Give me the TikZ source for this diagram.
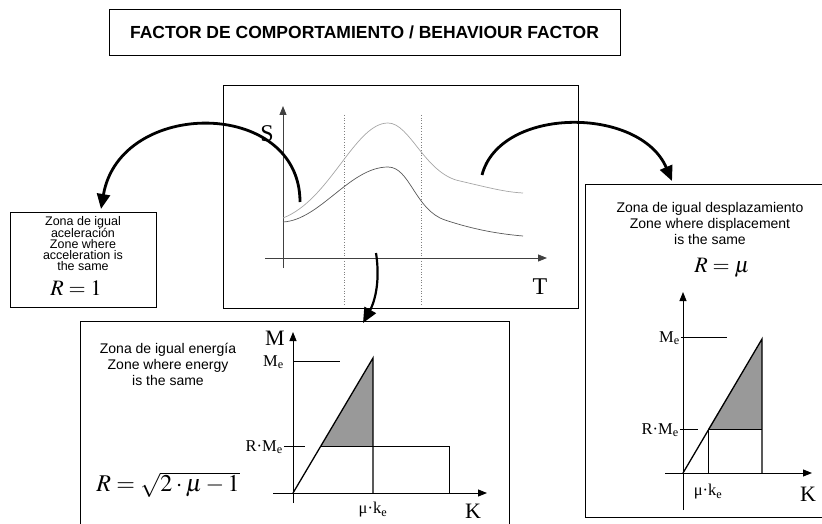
\documentclass[tikz,border=0pt]{standalone}
\usepackage{mathptmx}
\usepackage{fontspec}
\setmainfont{Liberation Serif}
\setsansfont{Liberation Sans}
\usetikzlibrary{arrows.meta}

\begin{document}
\begin{tikzpicture}[x=1pt, y=-1pt,
    box/.style={rectangle, draw, line width=0.9pt, inner sep=0pt},
    txt/.style={font=\sffamily\fontsize{14}{16}\selectfont, align=center, inner sep=0pt},
    axis/.style={line width=0.9pt, -{Triangle[width=7pt,length=9pt]}},
    curvearrow/.style={line width=2.8pt, -{Triangle[width=13pt,length=15pt]}},
    lbl/.style={font=\fontsize{16.5}{16.5}\selectfont, inner sep=1pt},
    big/.style={font=\fontsize{22}{22}\selectfont, inner sep=0pt}]

    \useasboundingbox (0,0) rectangle (822,524);

    % Title
    \node[box, minimum width=511pt, minimum height=46pt,
          font=\sffamily\bfseries\fontsize{17.5}{20}\selectfont] (title) at (364.5,32)
          {FACTOR DE COMPORTAMIENTO / BEHAVIOUR FACTOR};

    % Spectrum
    \node[box, minimum width=355pt, minimum height=223pt] (spec) at (400.5,196.5) {};
    \draw[gray, dotted, line width=0.7pt] (344,115) -- (344,305);
    \draw[gray, dotted, line width=0.7pt] (421,115) -- (421,305);
    \draw[axis, black!75] (283,268) -- (283,106);
    \draw[axis, black!75] (265,258) -- (547,258);
    \node[big, font=\fontsize{24}{24}\selectfont] (slbl) at (267,134) {S};
    \node[big, font=\fontsize{24}{24}\selectfont] (tlbl) at (540,287) {T};
    \draw[black!35, line width=0.7pt] (283,218) .. controls (330,200) and (355,123) .. (388,123)
        .. controls (410,123) and (425,174) .. (460,181)
        .. controls (490,188) and (505,192) .. (523,193);
    \draw[black!65, line width=0.7pt] (283,222) .. controls (320,220) and (350,167) .. (388,167)
        .. controls (410,167) and (415,210) .. (445,220)
        .. controls (475,230) and (500,234) .. (523,236);

    % Equal acceleration
    \node[box, minimum width=146pt, minimum height=95pt] (acc) at (83,259.5) {};
    \node[txt, font=\sffamily\fontsize{12.5}{11}\selectfont] (acctxt) at (83,243.5)
        {Zona de igual\\aceleración\\Zone where\\acceleration is\\the same};
    \node[big] (accR) at (76,288) {$R=1$};

    % Equal energy
    \node[box, minimum width=429pt, minimum height=219pt] (en) at (294.5,430.5) {};
    \node[txt] (entxt) at (168,364) {Zona de igual energía\\Zone where energy\\is the same};
    \node[big, font=\fontsize{24}{24}\selectfont] (enR) at (168,485) {$R=\sqrt{2\cdot\mu-1}$};
    \fill[black!40] (321,446) -- (373,358) -- (373,446) -- cycle;
    \draw[axis] (293,503) -- (293,332);
    \draw[axis] (273,493) -- (487,493);
    \draw[line width=0.6pt] (293,361) -- (340,361);
    \draw[line width=0.6pt] (284,446) -- (305,446);
    \draw[line width=1.3pt] (293,493) -- (373,358) -- (373,493);
    \draw[line width=0.9pt] (321,446) -- (449,446) -- (449,493);
    \node[big] (enM) at (275,338) {M};
    \node[lbl, anchor=east] (enMe) at (285,362) {M\textsubscript{e}};
    \node[lbl, anchor=east] (enRMe) at (284,447) {R·M\textsubscript{e}};
    \node[lbl] (enmu) at (373,510) {μ·k\textsubscript{e}};
    \node[big] (enK) at (473,511) {K};

    % Equal displacement
    \node[box, minimum width=255pt, minimum height=333pt] (dis) at (712.5,350.5) {};
    \node[txt] (distxt) at (710,223) {Zona de igual desplazamiento\\Zone where displacement\\is the same};
    \node[big] (disR) at (722,268) {$R=\mu$};
    \fill[black!40] (708,429) -- (762,339) -- (762,429) -- cycle;
    \draw[axis] (683,510) -- (683,292);
    \draw[axis] (665,473) -- (812,473);
    \draw[line width=0.6pt] (681,337) -- (727,337);
    \draw[line width=0.6pt] (680,429) -- (698,429);
    \draw[line width=1.3pt] (683,473) -- (762,339) -- (762,473);
    \draw[line width=0.9pt] (708,429) -- (762,429);
    \draw[line width=0.9pt] (708,429) -- (708,473);
    \node[lbl, anchor=east] (disMe) at (681,338) {M\textsubscript{e}};
    \node[lbl, anchor=east] (disRMe) at (680,430) {R·M\textsubscript{e}};
    \node[lbl] (dismu) at (708,492) {μ·k\textsubscript{e}};
    \node[big] (disK) at (808,494) {K};

    % Curved arrows
    \coordinate (accfrom) at (300,202);
    \coordinate (accto) at (101,209);
    \coordinate (disfrom) at (482,175);
    \coordinate (disto) at (672,181);
    \coordinate (enfrom) at (376,253);
    \coordinate (ento) at (363,323);
    \draw[curvearrow] (accfrom) .. controls (300,98) and (120,98) .. (accto);
    \draw[curvearrow] (disfrom) .. controls (500,106) and (640,106) .. (disto);
    \draw[curvearrow, line width=2.2pt] (enfrom) .. controls (381,285) and (373,305) .. (ento);
\end{tikzpicture}
\end{document}
